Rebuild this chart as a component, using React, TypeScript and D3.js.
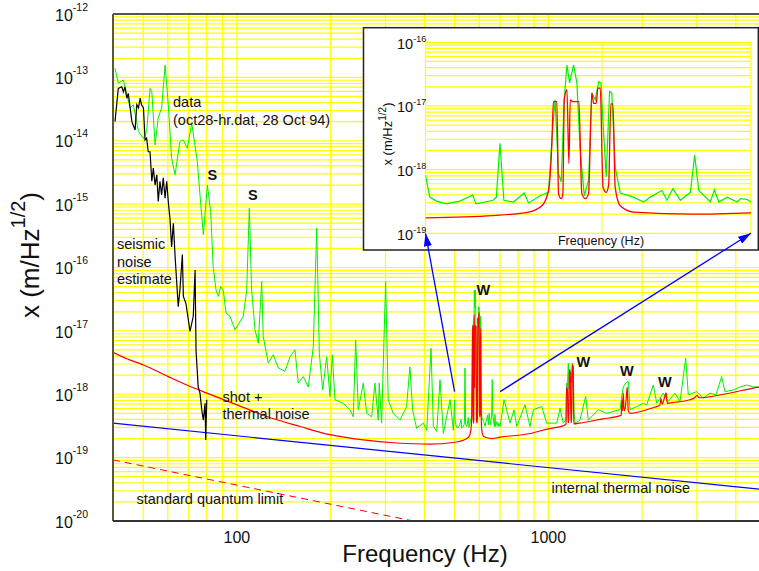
import * as d3 from "d3";

type Pt = [number, number];

// frequency (Hz), displacement noise (m/Hz^1/2)
const measured: Pt[] = [
  [40.6, 1.39e-13], [41.6, 8.1e-14], [43.2, 9.1e-14], [44.3, 5.3e-14], [45.4, 3.3e-14],
  [46.5, 3.7e-14], [48.3, 1.39e-14], [50.1, 1.09e-14], [51.3, 1.39e-14], [52.6, 6.7e-14],
  [53.3, 5.9e-14], [54.6, 8.6e-15], [55.9, 2.3e-14], [57.3, 3.3e-14], [58.8, 1.57e-13],
  [60.2, 3.7e-14], [61.7, 5.3e-15], [63.3, 2.9e-15], [65.6, 9.7e-15], [67.3, 1.03e-14],
  [69.3, 7.6e-15], [71.6, 1.9e-14], [74.6, 4.7e-15], [76.1, 1.4e-15], [78.0, 3.3e-16],
  [80.4, 2.0e-15], [82.4, 7.3e-16], [83.9, 1.03e-16], [85.7, 4.4e-17], [87.2, 3.5e-17],
  [88.7, 5.0e-17], [90.4, 4.4e-17], [92.3, 1.9e-17], [95.0, 1.7e-17], [98.6, 1.04e-17],
  [101.0, 1.25e-17], [104.8, 1.7e-17], [107.5, 4.4e-17], [109.6, 8.6e-16], [111.5, 4.4e-17],
  [114.3, 1.04e-17], [117.1, 6.4e-18], [120.1, 6.0e-17], [121.5, 8.1e-18], [126.1, 3.1e-18],
  [130.8, 4.2e-18], [135.8, 2.6e-18], [142.7, 2.3e-18], [148.1, 3.9e-18], [153.6, 5.0e-18],
  [157.4, 1.5e-18], [163.3, 1.9e-18], [169.5, 1.3e-18], [175.9, 5.6e-18], [180.4, 4.2e-16],
  [183.9, 4.4e-18], [188.5, 1.17e-18], [194.2, 3.9e-18], [199.0, 9.2e-19], [202.4, 4.2e-18],
  [206.5, 8.2e-19], [219.6, 7.2e-19], [230.7, 5.7e-19], [236.4, 4.4e-19], [240.6, 7.2e-18],
  [245.3, 5.7e-19], [254.5, 1.5e-18], [260.9, 5.0e-19], [270.8, 4.4e-19], [277.4, 1.5e-18],
  [284.3, 3.9e-19], [286.4, 1.5e-18], [291.5, 3.5e-19], [300.3, 6.0e-17], [306.1, 8.2e-19],
  [317.6, 5.0e-19], [333.7, 3.9e-19], [350.6, 6.4e-19], [359.3, 2.7e-18], [366.5, 5.7e-19],
  [377.5, 2.9e-19], [396.8, 3.5e-19], [407.0, 2.7e-19], [420.1, 5.3e-18], [427.3, 3.1e-19],
  [438.2, 2.6e-19], [449.0, 1.7e-18], [460.1, 2.4e-19], [483.5, 8.2e-19], [495.5, 2.7e-19],
  [500, 8.1e-19], [502.2, 3.7e-19], [505.7, 3.2e-19], [510.9, 2.9e-19], [518.1, 3.2e-19],
  [525.0, 4.0e-19], [526.8, 2.9e-19], [536.2, 3.3e-19], [538.0, 3.7e-19], [540.0, 2.6e-18],
  [542.2, 3.3e-19], [547.6, 3.1e-19], [553.7, 4.3e-19], [556.2, 3.0e-19], [562.9, 3.9e-19],
  [567.8, 4.4e-19], [570.3, 4.7e-18], [571.7, 1.25e-17], [573.7, 8.6e-19], [575.3, 6.4e-19],
  [577.1, 1.25e-17], [578.7, 4.4e-17], [580.3, 2.3e-17], [582.7, 4.4e-17], [584.7, 2.3e-17],
  [586.7, 2.0e-18], [589.2, 3.9e-19], [591.8, 6.8e-19], [593.8, 1.6e-17], [595.9, 1.25e-17],
  [598.0, 2.4e-17], [599.4, 2.3e-17], [601.1, 3.7e-18], [602.7, 7.7e-19], [604.8, 1.7e-17],
  [606.2, 1.6e-17], [608.3, 1.1e-18], [611.5, 4.3e-19], [620.0, 3.7e-19], [626.4, 3.1e-19],
  [630.8, 3.7e-19], [638.4, 4.7e-19], [641.7, 3.3e-19], [645.7, 5.0e-19], [650.7, 3.3e-19],
  [657.5, 4.4e-19], [660.4, 1.7e-18], [663.2, 4.7e-19], [671.2, 3.1e-19], [674.0, 4.8e-19],
  [677.1, 3.1e-19], [683.0, 3.7e-19], [690.1, 3.1e-19], [692.5, 3.5e-19], [697.3, 3.4e-19],
  [700, 3.1e-19], [720.9, 8.2e-19], [753.4, 3.5e-19], [776.0, 5.7e-19], [791.6, 3.1e-19],
  [841.6, 6.8e-19], [873.3, 3.1e-19], [894.9, 5.7e-19], [952.1, 6.4e-19], [988.0, 3.5e-19],
  [1063.9, 3.5e-19], [1090.1, 6.0e-19], [1117, 3.5e-19], [1140, 4.0e-19], [1145, 1.5e-18],
  [1152, 1.3e-18], [1159, 3.1e-18], [1166, 1.2e-18], [1172, 2.5e-18], [1180, 2.1e-18],
  [1187, 1.5e-18], [1194, 3.1e-18], [1202, 2.8e-18], [1210, 5.0e-19], [1218, 3.5e-19],
  [1263.6, 3.9e-19], [1318, 9.2e-19], [1343.6, 3.9e-19], [1447, 5.7e-19], [1539.6, 5.0e-19],
  [1699, 5.7e-19], [1720, 9.0e-19], [1741, 1.3e-18], [1772.3, 1.5e-18], [1806.7, 1.6e-18],
  [1829.5, 5.7e-19], [1922.4, 6.4e-19], [2018.5, 7.2e-19], [2069.9, 6.8e-19], [2173.4, 1.4e-18],
  [2228.7, 7.2e-19], [2339.9, 1.04e-18], [2428, 7.7e-19], [2551.4, 1.04e-18], [2647.5, 7.7e-19],
  [2761.4, 3.7e-18], [2815, 9.8e-19], [2995, 1.1e-18], [3144.4, 8.7e-19], [3303.7, 1.04e-18],
  [3453.6, 9.8e-19], [3602.3, 1.9e-18], [3691.3, 1.1e-18], [3925, 1.17e-18], [4125, 1.3e-18],
  [4337, 1.4e-18], [4554, 1.3e-18], [4750, 1.3e-18], [5000, 1.4e-18],
];

const seismicEstimate: Pt[] = [
  [40.6, 2.0e-14], [41.1, 3.7e-14], [41.6, 6.7e-14], [42.7, 7.1e-14], [43.2, 5.9e-14],
  [43.7, 7.1e-14], [44.3, 4.7e-14], [44.8, 5.6e-14], [45.4, 3.3e-14], [46.0, 2.0e-14],
  [47.1, 1.48e-14], [47.7, 3.7e-14], [48.3, 3.3e-14], [48.9, 4.7e-14], [49.4, 3.7e-14],
  [50.1, 3.3e-14], [50.7, 1.03e-14], [51.3, 1.1e-14], [51.9, 6.7e-15], [52.6, 6.7e-15],
  [53.3, 2.3e-15], [53.9, 3.7e-15], [54.6, 2.0e-15], [55.3, 2.9e-15], [55.9, 1.1e-15],
  [56.6, 2.3e-15], [57.3, 1.4e-15], [58.0, 2.6e-15], [58.8, 1.24e-15], [59.5, 2.3e-15],
  [60.2, 1.1e-15], [61.0, 5.6e-16], [61.7, 2.1e-16], [62.5, 5.0e-16], [63.3, 1.5e-16],
  [64.8, 2.4e-17], [65.6, 4.4e-17], [66.8, 1.6e-16], [67.3, 3.5e-17], [68.6, 2.7e-17],
  [70.7, 9.8e-18], [72.4, 1.7e-17], [73.4, 9.1e-17], [73.9, 5.0e-18], [75.1, 1.3e-18],
  [76.1, 1.04e-18], [77.1, 5.7e-19], [78.0, 3.9e-19], [79.0, 7.2e-19], [79.4, 1.9e-19],
  [80.0, 8.2e-19],
];

const shotThermal: Pt[] = [
  [40, 4.6e-18], [44.5, 3.6e-18], [50.1, 2.9e-18], [60.2, 1.9e-18], [70, 1.36e-18],
  [80.1, 1.04e-18], [100, 6.8e-19], [124.7, 4.45e-19], [159.4, 3.1e-19], [199, 2.3e-19],
  [254.7, 1.9e-19], [325.9, 1.7e-19], [417, 1.63e-19], [500, 1.75e-19], [536.2, 1.9e-19],
  [556.2, 2.15e-19], [563.9, 2.7e-19], [567.8, 4.7e-19], [569.7, 2.3e-18], [570.7, 1.17e-17],
  [572.7, 1.17e-17], [573.7, 4.2e-19], [575.3, 3.5e-19], [576.3, 4.2e-19], [577.1, 1.25e-17],
  [578.7, 1.8e-17], [579.9, 1.25e-18], [580.7, 1.25e-17], [582.3, 1.17e-17], [585.9, 1.17e-17],
  [587.7, 4.2e-19], [589.8, 3.5e-19], [591.8, 4.2e-19], [593.8, 1.6e-17], [594.9, 1.1e-17],
  [596.5, 1.1e-17], [597.5, 1.9e-17], [599.0, 1.9e-17], [600.7, 5.3e-19], [602.7, 4.4e-19],
  [604.2, 5.7e-19], [605.6, 1.08e-17], [606.9, 1.08e-17], [608.3, 5.3e-19], [611.5, 2.7e-19],
  [620.0, 2.15e-19], [659.7, 2.0e-19], [700, 2.1e-19], [873, 2.4e-19], [1000, 2.85e-19],
  [1120, 3.2e-19], [1140, 3.4e-19], [1144, 1.3e-18], [1152, 1.2e-18], [1157, 3.6e-19],
  [1163, 3.6e-19], [1168, 2.4e-18], [1176, 2.2e-18], [1182, 3.6e-19], [1188, 3.6e-19],
  [1193, 2.9e-18], [1201, 2.7e-18], [1207, 3.4e-19], [1260, 3.5e-19], [1500, 4.1e-19],
  [1700, 4.6e-19], [1715, 4.7e-19], [1722, 8.0e-19], [1730, 5.5e-19], [1740, 1.04e-18],
  [1750, 5.5e-19], [1765, 6.0e-19], [1780, 9.0e-19], [1792, 1.3e-18], [1805, 5.6e-19],
  [1830, 5.0e-19], [2200, 6.3e-19], [2280, 6.7e-19], [2300, 8.5e-19], [2320, 7.0e-19],
  [2360, 8.8e-19], [2390, 1.05e-18], [2410, 7.2e-19], [2500, 7.4e-19], [2851, 8.2e-19],
  [2950, 8.8e-19], [3000, 9.6e-19], [3050, 8.8e-19], [3648, 1.0e-18], [4748, 1.3e-18],
  [5000, 1.35e-18],
];

const internalThermal: Pt[] = [[40, 3.5e-19], [5000, 3.1e-20]];
const quantumLimit: Pt[] = [[40, 9.2e-20], [400, 9.2e-21]];

const mainExponents = [-12, -13, -14, -15, -16, -17, -18, -19, -20];
const freqLabels = [100, 1000];
const insetExponents = [-16, -17, -18, -19];
const insetBand: [number, number] = [500, 700];
const insetFreqLines = [500, 600, 700];
const arrowLevel = 1.1e-18;

const FONT = "'Liberation Sans', Arial, Helvetica, sans-serif";
const YELLOW = "#ffff00";

export default function App() {
  const x = d3.scaleLog().domain([40, 5000]).range([113, 766]);
  const y = d3.scaleLog().domain([1e-20, 1e-12]).range([521, 14]);
  const ix = d3.scaleLog().domain(insetBand).range([425.5, 751]);
  const iy = d3.scaleLog().domain([1e-19, 1e-16]).range([233.3, 42.3]);

  const line = d3.line<Pt>().x((d) => x(d[0])).y((d) => y(d[1]));
  const smooth = d3.line<Pt>().x((d) => x(d[0])).y((d) => y(d[1])).curve(d3.curveMonotoneX);
  const insetLine = d3.line<Pt>().x((d) => ix(d[0])).y((d) => iy(d[1]));
  const insetSmooth = d3.line<Pt>().x((d) => ix(d[0])).y((d) => iy(d[1])).curve(d3.curveMonotoneX);
  const inBand = (d: Pt) => d[0] >= insetBand[0] && d[0] <= insetBand[1];

  const [x0, x1] = x.range();
  const [yb, yt] = y.range();

  return (
    <div style={{ position: "fixed", left: 0, top: 0 }}>
      <svg width={759} height={571} style={{ display: "block", background: "#fff", fontFamily: FONT }}>
        <defs>
          <clipPath id="plot">
            <rect x={x0} y={yt} width={x1 - x0} height={yb - yt} />
          </clipPath>
          <clipPath id="insetPlot">
            <rect x={ix.range()[0]} y={iy.range()[1]} width={ix.range()[1] - ix.range()[0]} height={iy.range()[0] - iy.range()[1]} />
          </clipPath>
          <marker id="arrow" viewBox="0 0 13 8" refX={13} refY={4} markerWidth={13} markerHeight={8} markerUnits="userSpaceOnUse" orient="auto">
            <path d="M0,0L13,4L0,8z" fill="#0000ff" />
          </marker>
        </defs>

        {/* grid */}
        <g stroke={YELLOW} strokeWidth={1.2}>
          {x.ticks().map((f) => (
            <line key={`gx${f}`} x1={x(f)} x2={x(f)} y1={yt} y2={yb} />
          ))}
          {y.ticks().map((v, i) => (
            <line key={`gy${i}`} x1={x0} x2={x1} y1={y(v)} y2={y(v)} />
          ))}
        </g>

        {/* curves */}
        <g clipPath="url(#plot)" fill="none">
          <path d={smooth(quantumLimit) ?? ""} stroke="#ff0000" strokeWidth={1} strokeDasharray="7,5" />
          <path d={smooth(internalThermal) ?? ""} stroke="#0000ff" strokeWidth={1.2} />
          <path d={line(measured) ?? ""} stroke="#00f000" strokeWidth={1} />
          <path d={smooth(shotThermal) ?? ""} stroke="#ff0000" strokeWidth={1.2} />
          <path d={line(seismicEstimate) ?? ""} stroke="#000" strokeWidth={1.2} />
        </g>

        {/* frame */}
        <line x1={x0} x2={x1} y1={yt} y2={yt} stroke="#555" strokeWidth={2} />
        <line x1={x0} x2={x0} y1={yt} y2={yb} stroke="#5a5a30" strokeWidth={2} />
        <line x1={x0} x2={x1} y1={yb} y2={yb} stroke="#333" strokeWidth={2} />

        {/* y tick labels */}
        {mainExponents.map((e) => (
          <text key={`yl${e}`} x={55} y={y(Math.pow(10, e)) + 6.7} fontSize={16} fill="#111">
            10<tspan dy={-10} fontSize={10.5}>{e}</tspan>
          </text>
        ))}
        {/* x tick labels */}
        {freqLabels.map((f) => (
          <text key={`xl${f}`} x={x(f)} y={543.3} fontSize={16} textAnchor="middle" fill="#111">
            {f}
          </text>
        ))}
        <text x={425} y={561.5} fontSize={24} textAnchor="middle" fill="#111">
          Frequency (Hz)
        </text>
        <text transform="translate(38.5,255) rotate(-90)" fontSize={26} textAnchor="middle" fill="#111">
          x (m/Hz<tspan dy={-14} fontSize={20}>1/2</tspan>
          <tspan dy={14}>)</tspan>
        </text>

        {/* annotations */}
        <g fontSize={14.5} fill="#111">
          <text x={173} y={107}>data</text>
          <text x={173} y={125}>(oct28-hr.dat, 28 Oct 94)</text>
          <text x={117} y={249}>seismic</text>
          <text x={117} y={266.5}>noise</text>
          <text x={117} y={284}>estimate</text>
          <text x={222.5} y={401.5}>shot +</text>
          <text x={222.5} y={418.5}>thermal noise</text>
          <text x={136.5} y={504}>standard quantum limit</text>
          <text x={551.5} y={493}>internal thermal noise</text>
        </g>
        <g fontSize={14.5} fontWeight="bold" fill="#111">
          <text x={207.5} y={180}>S</text>
          <text x={248} y={200}>S</text>
          <text x={476.5} y={295}>W</text>
          <text x={576.5} y={366.5}>W</text>
          <text x={620} y={376}>W</text>
          <text x={658} y={387}>W</text>
        </g>

        {/* inset */}
        <rect x={363.5} y={27.7} width={394.8} height={222.3} fill="#fff" stroke="#222" strokeWidth={1.5} />
        <g stroke={YELLOW} strokeWidth={1.2}>
          {insetFreqLines.map((f) => (
            <line key={`ix${f}`} x1={ix(f)} x2={ix(f)} y1={iy.range()[1]} y2={iy.range()[0]} />
          ))}
          {iy.ticks().map((v, i) => (
            <line key={`iy${i}`} x1={ix.range()[0]} x2={ix.range()[1]} y1={iy(v)} y2={iy(v)} />
          ))}
        </g>
        <g clipPath="url(#insetPlot)" fill="none">
          <path d={insetLine(measured.filter(inBand)) ?? ""} stroke="#00f000" strokeWidth={1.2} />
          <path d={insetSmooth(shotThermal.filter(inBand)) ?? ""} stroke="#ff0000" strokeWidth={1.3} />
        </g>
        {insetExponents.map((e) => (
          <text key={`il${e}`} x={397} y={iy(Math.pow(10, e)) + 6.5} fontSize={14.5} fill="#111">
            10<tspan dy={-7} fontSize={9}>{e}</tspan>
          </text>
        ))}
        <text transform="translate(392,134) rotate(-90)" fontSize={13} textAnchor="middle" fill="#111">
          x (m/Hz<tspan dy={-6} fontSize={10}>1/2</tspan>
          <tspan dy={6}>)</tspan>
        </text>
        <text x={601} y={245} fontSize={12.5} textAnchor="middle" fill="#111">
          Frequency (Hz)
        </text>

        {/* arrows from the main plot to the inset */}
        {insetBand.map((f) => (
          <line
            key={`ar${f}`}
            x1={x(f)}
            y1={y(arrowLevel)}
            x2={ix(f)}
            y2={iy(1e-19)}
            stroke="#0000ff"
            strokeWidth={1.3}
            markerEnd="url(#arrow)"
          />
        ))}
      </svg>
    </div>
  );
}
